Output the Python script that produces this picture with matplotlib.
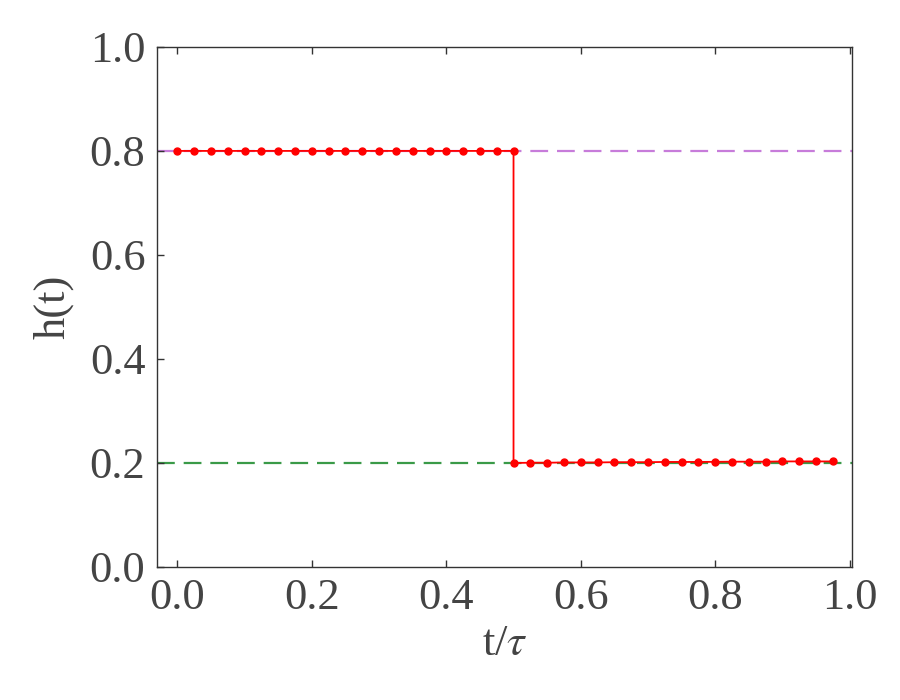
import matplotlib
matplotlib.use("Agg")
import matplotlib.pyplot as plt

plt.rcParams['font.family'] = ['Liberation Serif', 'DejaVu Serif']
plt.rcParams['mathtext.fontset'] = 'stix'

# step profile h(t), sampled every 0.025 tau
t_high = [0.0, 0.025, 0.05, 0.075, 0.1, 0.125, 0.15, 0.175, 0.2, 0.225, 0.25,
          0.275, 0.3, 0.325, 0.35, 0.375, 0.4, 0.425, 0.45, 0.475, 0.5]
h_high = [0.8] * 21
t_low = [0.5, 0.525, 0.55, 0.575, 0.6, 0.625, 0.65, 0.675, 0.7, 0.725,
         0.75, 0.775, 0.8, 0.825, 0.85, 0.875, 0.9, 0.925, 0.95, 0.975]
h_low = [0.2, 0.2005, 0.2005, 0.201, 0.201, 0.201, 0.2015, 0.2015, 0.2015, 0.202,
         0.202, 0.202, 0.2022, 0.2025, 0.2025, 0.2025, 0.203, 0.203, 0.203, 0.203]
h_ref_high = 0.8
h_ref_low = 0.2

txt = '#444444'
fig = plt.figure(figsize=(9, 7), dpi=100)
ax = fig.add_axes([0.174, 0.19, 0.773, 0.743])

ax.axhline(h_ref_high, color='#c77cda', lw=1.6, dashes=(8, 4), zorder=1)
ax.axhline(h_ref_low, color='#3a9a48', lw=1.6, dashes=(8, 4), zorder=1)

t_all = t_high + t_low
h_all = h_high + h_low
ax.plot(t_all, h_all, color='red', lw=1.3, marker='o', ms=5, zorder=3)

ax.set_xlim(-0.031, 1.004)
ax.set_ylim(0, 1)
ax.set_xticks([0.0, 0.2, 0.4, 0.6, 0.8, 1.0])
ax.set_yticks([0.0, 0.2, 0.4, 0.6, 0.8, 1.0])
ax.tick_params(direction='in', top=True, right=False, length=5, width=1,
               labelsize=32, colors='#333333', labelcolor=txt, pad=8)
for s in ax.spines.values():
    s.set_color('#333333')
    s.set_linewidth(1.0)

ax.set_xlabel(r't/$\tau$', fontsize=32, color=txt, labelpad=4)
ax.set_ylabel('h(t)', fontsize=32, color=txt, labelpad=12)

fig.savefig('out.png', dpi=100)
